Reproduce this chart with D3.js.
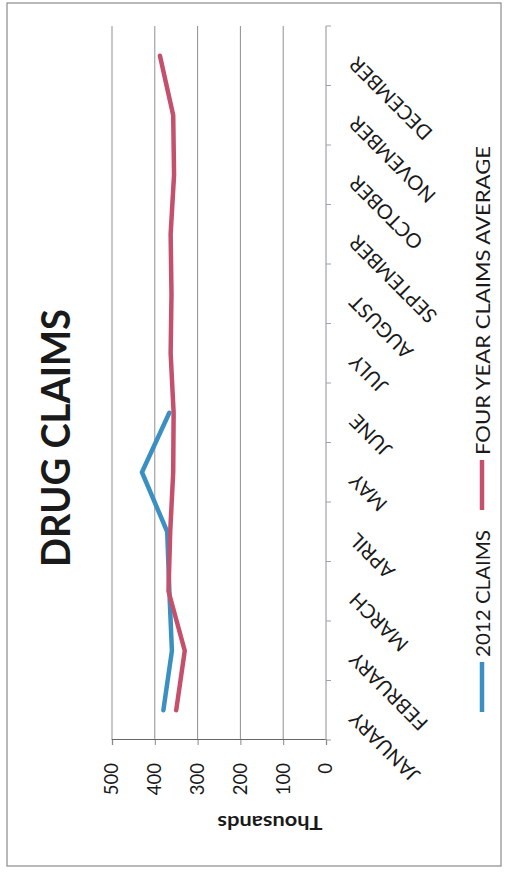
<!DOCTYPE html>
<html><head><meta charset="utf-8">
<script src="https://cdn.jsdelivr.net/npm/d3@7"></script>
<style>
html,body{margin:0;padding:0;background:#fff;}
svg{display:block;}
text{font-family:Lato,"Open Sans",sans-serif;fill:#1a1a1a;}
</style></head>
<body>
<script>
const months = ["JANUARY","FEBRUARY","MARCH","APRIL","MAY","JUNE","JULY","AUGUST","SEPTEMBER","OCTOBER","NOVEMBER","DECEMBER"];
const claims2012 = [380, 360, 366, 371, 430, 366];
const fourYearAvg = [350, 330, 368, 364, 357, 356, 363, 361, 363, 355, 357, 388];
const valueTicks = [0, 100, 200, 300, 400, 500];
const seriesNames = ["2012 CLAIMS", "FOUR YEAR CLAIMS AVERAGE"];
const seriesColors = ["#3a8fc3", "#c5506c"];
const title = "DRUG CLAIMS";
const unitLabel = "Thousands";

const SW = 509, SH = 873;
const svg = d3.select("body").append("svg").attr("width", SW).attr("height", SH);
svg.append("rect").attr("width", SW).attr("height", SH).attr("fill", "#fff");

// The page is rotated 90° counter-clockwise: draw in the original orientation.
const g = svg.append("g").attr("transform", `translate(0,${SH}) rotate(-90)`);

// frame
g.append("rect").attr("x", 7).attr("y", 7).attr("width", 863).attr("height", 494)
  .attr("fill", "none").attr("stroke", "#8a8a8a").attr("stroke-width", 1.2);

const x = d3.scaleBand().domain(months).range([133, 847]).padding(0);
const y = d3.scaleLinear().domain([0, 500]).range([326, 112]);
const cx = m => x(m) + x.bandwidth() / 2;

// gridlines
g.append("g").selectAll("line").data(valueTicks.filter(v => v > 0)).join("line")
  .attr("x1", 133).attr("x2", 847).attr("y1", d => y(d)).attr("y2", d => y(d))
  .attr("stroke", "#8f8f8f").attr("stroke-width", 1);

// value axis (left in original)
const yAxis = g.append("g").attr("transform", "translate(133,0)")
  .call(d3.axisLeft(y).tickValues(valueTicks).tickSize(5).tickPadding(18).tickFormat(d3.format("d")));
yAxis.select(".domain").attr("stroke", "#666").attr("stroke-width", 1.2);
yAxis.selectAll(".tick line").attr("stroke", "#888");
yAxis.selectAll("text").style("font-size", "18.5px").attr("fill", "#1a1a1a");

// category axis (bottom in original)
const xAxis = g.append("g").attr("transform", `translate(0,${y(0)})`);
xAxis.append("line").attr("x1", 133).attr("x2", 847).attr("y1", 0).attr("y2", 0)
  .attr("stroke", "#9aa3ad").attr("stroke-width", 1.2);
const bounds = months.map(m => x(m)).concat([x(months[months.length - 1]) + x.bandwidth()]);
xAxis.selectAll("line.tk").data(bounds).join("line").attr("class", "tk")
  .attr("x1", d => d).attr("x2", d => d).attr("y1", 0).attr("y2", 5)
  .attr("stroke", "#9aa3ad").attr("stroke-width", 1);
xAxis.selectAll("text").data(months).join("text")
  .attr("transform", d => `translate(${cx(d)},32) rotate(-45)`)
  .attr("text-anchor", "end")
  .style("font-size", "20px")
  .text(d => d);

// lines
const line = d3.line().x(d => cx(d.m)).y(d => y(d.v)).curve(d3.curveLinear);
[claims2012, fourYearAvg].forEach((vals, i) => {
  g.append("path")
    .datum(vals.map((v, j) => ({ m: months[j], v })))
    .attr("d", line)
    .attr("fill", "none")
    .attr("stroke", seriesColors[i])
    .attr("stroke-width", 4.5)
    .attr("stroke-linejoin", "round")
    .attr("stroke-linecap", "round");
});

// title
g.append("text").attr("x", 435).attr("y", 70).attr("text-anchor", "middle")
  .style("font-size", "40px").style("font-weight", "bold")
  .attr("textLength", 258).attr("lengthAdjust", "spacingAndGlyphs")
  .text(title);

// display unit label
g.append("text").attr("transform", "translate(50,270) rotate(-90)")
  .attr("text-anchor", "middle").attr("dominant-baseline", "central")
  .style("font-size", "19px").style("font-weight", "bold")
  .attr("textLength", 105).attr("lengthAdjust", "spacingAndGlyphs")
  .text(unitLabel);

// legend
const legend = [
  { name: seriesNames[0], color: seriesColors[0], x0: 161, len: 127 },
  { name: seriesNames[1], color: seriesColors[1], x0: 363, len: 309 }
];
legend.forEach(l => {
  g.append("line").attr("x1", l.x0).attr("x2", l.x0 + 50).attr("y1", 482).attr("y2", 482)
    .attr("stroke", l.color).attr("stroke-width", 4.5);
  g.append("text").attr("x", l.x0 + 55).attr("y", 482).attr("dominant-baseline", "central")
    .style("font-size", "20px")
    .attr("textLength", l.len).attr("lengthAdjust", "spacingAndGlyphs")
    .text(l.name);
});
</script>
</body></html>
